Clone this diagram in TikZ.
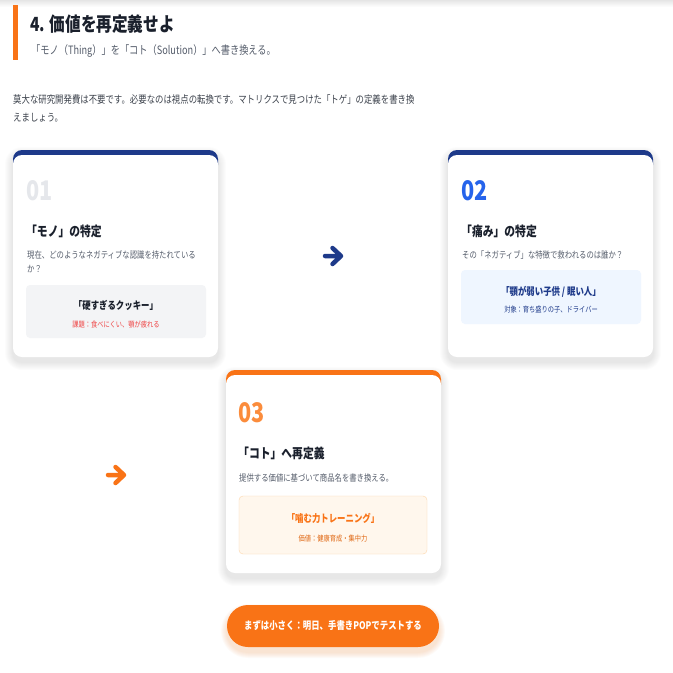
\documentclass[tikz,border=0pt]{standalone}
\usepackage{fontspec}
\setmainfont{Noto Sans CJK JP}[FakeStretch=0.8]
\usepackage{xcolor}
\usetikzlibrary{positioning}

\definecolor{navy}{HTML}{1E3A8A}
\definecolor{blue2}{HTML}{2563EB}
\definecolor{orng}{HTML}{F97316}
\definecolor{orng3}{HTML}{FB8C3C}
\definecolor{ink}{HTML}{1A202C}
\definecolor{txtgray}{HTML}{555D6B}
\definecolor{numgray}{HTML}{E5E7EB}
\definecolor{warn}{HTML}{EF4444}
\definecolor{boxgray}{HTML}{F3F4F6}
\definecolor{boxblue}{HTML}{EFF6FF}
\definecolor{boxorng}{HTML}{FFF7ED}
\definecolor{lineorng}{HTML}{FED7AA}

% card: x1 y1 x2 y2 colour of the top edge
\newcommand{\cardbg}[5]{%
  \foreach \i in {1,...,8}
    \fill[black, opacity=0.012, rounded corners=9+\i] (#1-\i,#2-\i+5) rectangle (#3+\i,#4+\i+5);
  \fill[#5, rounded corners=9] (#1,#2) rectangle (#3,#2+24);
  \fill[white, rounded corners=9] (#1,#2+5) rectangle (#3,#4);
}

\begin{document}
\begin{tikzpicture}[x=1pt, y=-1pt,
  every node/.style={inner sep=0pt},
  head/.style={font=\bfseries\fontsize{19.5}{22}\selectfont, text=ink, anchor=base west},
  sub/.style={font=\fontsize{11.5}{14}\selectfont, text=txtgray, anchor=base west},
  para/.style={font=\fontsize{10.5}{13}\selectfont, text=ink!85, anchor=base west},
  num/.style={font=\bfseries\fontsize{27}{30}\selectfont, anchor=base west},
  ctitle/.style={font=\bfseries\fontsize{13.5}{16}\selectfont, text=ink, anchor=base west},
  desc/.style={font=\fontsize{9.2}{12}\selectfont, text=txtgray, anchor=base west},
  key/.style={font=\bfseries\fontsize{10.5}{13}\selectfont, anchor=base},
  note/.style={font=\fontsize{7.8}{10}\selectfont, anchor=base},
  icon/.style={line width=4.5pt, line cap=round, line join=round},
  btn/.style={fill=orng, rounded corners=21pt, minimum width=212pt, minimum height=42pt,
    text=white, font=\bfseries\fontsize{10.5}{13}\selectfont}]

  \useasboundingbox (0,0) rectangle (673,673);
  \fill[white] (0,0) rectangle (673,673);
  \shade[top color=black!10, bottom color=white] (0,0) rectangle (673,7);

  % heading
  \fill[orng] (13,5) rectangle (18,60);
  \node[head] (title) at (30,31) {4. 価値を再定義せよ};
  \node[sub] (subtitle) at (31,54) {「モノ（Thing）」を「コト（Solution）」へ書き換える。};
  \node[para] (p1) at (13,103) {莫大な研究開発費は不要です。必要なのは視点の転換です。マトリクスで見つけた「トゲ」の定義を書き換};
  \node[para] (p2) at (13,121) {えましょう。};

  % cards
  \cardbg{13}{150}{218}{357}{navy}
  \cardbg{448}{150}{653}{357}{navy}
  \cardbg{226}{370}{441}{573}{orng}

  % card 01
  \node[num, text=numgray] (n1) at (26,200) {01};
  \node[ctitle] (t1) at (26,236) {「モノ」の特定};
  \node[desc] (d1a) at (27,258) {現在、どのようなネガティブな認識を持たれている};
  \node[desc] (d1b) at (27,272) {か？};
  \fill[boxgray, rounded corners=4] (26,285) rectangle (206,338);
  \node[key, text=ink] (k1) at (116,309) {「硬すぎるクッキー」};
  \node[note, text=warn] (m1) at (116,327) {課題：食べにくい、顎が疲れる};

  % card 02
  \node[num, text=blue2] (n2) at (461,200) {02};
  \node[ctitle] (t2) at (461,236) {「痛み」の特定};
  \node[desc] (d2) at (462,258) {その「ネガティブ」な特徴で救われるのは誰か？};
  \fill[boxblue, rounded corners=4] (461,270) rectangle (641,324);
  \node[key, text=navy] (k2) at (551,295) {「顎が弱い子供 / 眠い人」};
  \node[note, text=navy] (m2) at (551,312) {対象：育ち盛りの子、ドライバー};

  % card 03
  \node[num, text=orng3] (n3) at (238,422) {03};
  \node[ctitle] (t3) at (238,458) {「コト」へ再定義};
  \node[desc] (d3) at (239,481) {提供する価値に基づいて商品名を書き換える。};
  \filldraw[fill=boxorng, draw=lineorng, rounded corners=4] (239,496) rectangle (427,554);
  \node[key, text=orng] (k3) at (333,522) {「噛む力トレーニング」};
  \node[note, text=orng!90!black] (m3) at (333,541) {価値：健康育成・集中力};

  % arrows between the cards
  \coordinate (a1) at (333,256);
  \coordinate (a2) at (116,475);
  \draw[icon, navy, shift={(a1)}] (-8,0) -- (7,0) (-0.5,-8) -- (8,0) -- (-0.5,8);
  \draw[icon, orng, shift={(a2)}] (-8,0) -- (7,0) (-0.5,-8) -- (8,0) -- (-0.5,8);

  % call to action
  \foreach \i in {1,...,6}
    \fill[orng, opacity=0.03, rounded corners=21+\i] (227-\i,605-\i+5) rectangle (439+\i,647+\i+5);
  \node[btn] (go) at (333,626) {まずは小さく：明日、手書きPOPでテストする};

\end{tikzpicture}
\end{document}
